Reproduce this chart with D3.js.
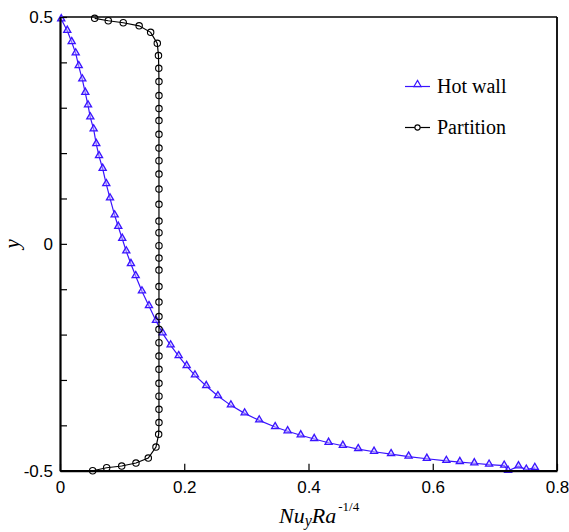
<!DOCTYPE html>
<html>
<head>
<meta charset="utf-8">
<script src="https://cdn.jsdelivr.net/npm/d3@7"></script>
<style>
  body { margin: 0; background: #fff; }
  svg { display: block; }
</style>
</head>
<body>
<svg id="chart" width="569" height="532"></svg>
<script>
// Hot wall: local Nusselt number along the heated wall
const hotX = [0.002, 0.0117, 0.0188, 0.0253, 0.0301, 0.0359, 0.0407, 0.0451, 0.0488, 0.0542,
  0.0584, 0.0628, 0.0687, 0.0745, 0.0805, 0.0880, 0.0938, 0.1002, 0.1067, 0.1142,
  0.1218, 0.1319, 0.1432, 0.1545, 0.1652, 0.1781, 0.1910, 0.2039, 0.2172, 0.2354,
  0.2542, 0.2751, 0.2972, 0.3207, 0.3463, 0.3664, 0.3875, 0.4092, 0.4323, 0.4553,
  0.4800, 0.5055, 0.5329, 0.5611, 0.5905, 0.6219, 0.6436, 0.6669, 0.6907, 0.7150,
  0.7213, 0.7380, 0.7506, 0.7643];
const hotY = [0.495, 0.4697, 0.4448, 0.4199, 0.3919, 0.3626, 0.3330, 0.3053, 0.2788, 0.2524,
  0.2200, 0.1935, 0.1655, 0.1318, 0.1003, 0.0628, 0.0377, 0.0112, -0.0165, -0.0445,
  -0.0710, -0.1047, -0.1371, -0.1695, -0.1973, -0.2237, -0.2473, -0.2693, -0.2898, -0.3134,
  -0.3355, -0.3560, -0.3736, -0.3890, -0.4038, -0.4130, -0.4219, -0.4302, -0.4384, -0.4450,
  -0.4523, -0.4582, -0.4633, -0.4688, -0.4737, -0.4783, -0.4809, -0.4836, -0.4865, -0.4887,
  -0.5003, -0.4902, -0.4975, -0.4937];

// Partition
const partX = [0.0558, 0.0777, 0.1018, 0.1274, 0.1459, 0.1566, 0.1585, 0.1590, 0.1593, 0.1593,
  0.1593, 0.1593, 0.1593, 0.1593, 0.1593, 0.1593, 0.1593, 0.1593, 0.1593, 0.1593,
  0.1593, 0.1593, 0.1593, 0.1593, 0.1593, 0.1593, 0.1593, 0.1593, 0.1593, 0.1593,
  0.1593, 0.1593, 0.1593, 0.1593, 0.1588, 0.1545, 0.1421, 0.1223, 0.0993, 0.0751, 0.0526];
const partY = [0.4970, 0.4917, 0.4873, 0.4805, 0.4662, 0.4419, 0.4150, 0.3868, 0.3577, 0.3269,
  0.2982, 0.2718, 0.2413, 0.2112, 0.1832, 0.1538, 0.1208, 0.0871, 0.0503, 0.0245,
  -0.0042, -0.0313, -0.0577, -0.0941, -0.1283, -0.1602, -0.1885, -0.2180, -0.2473, -0.2766,
  -0.3075, -0.3359, -0.3648, -0.3939, -0.4199, -0.4479, -0.4721, -0.4831, -0.4897, -0.4935, -0.5001];

const xTicks = [0, 0.2, 0.4, 0.6, 0.8];
const xTickLabels = ["0", "0.2", "0.4", "0.6", "0.8"];
const yTicks = [-0.5, -0.4, -0.3, -0.2, -0.1, 0, 0.1, 0.2, 0.3, 0.4, 0.5];
const yTickLabels = {"-0.5": "-0.5", "0": "0", "0.5": "0.5"};
const seriesNames = ["Hot wall", "Partition"];

const blue = "#3a14ff";

const svg = d3.select("#chart");
const mLeft = 60, mRight = 557, mTop = 17, mBottom = 470.7;

const x = d3.scaleLinear().domain([0, 0.8]).range([mLeft, mRight]);
const y = d3.scaleLinear().domain([-0.5, 0.5]).range([mBottom, mTop]);

const hot = hotX.map((v, i) => [v, hotY[i]]);
const part = partX.map((v, i) => [v, partY[i]]);

const line = d3.line().x(d => x(d[0])).y(d => y(d[1]));
const tri = d3.symbol().type(d3.symbolTriangle).size(22);

// frame (top / right thin)
svg.append("line").attr("x1", mLeft).attr("x2", mRight).attr("y1", mTop).attr("y2", mTop)
  .attr("stroke", "#000").attr("stroke-width", 1.3);
svg.append("line").attr("x1", mRight).attr("x2", mRight).attr("y1", mTop).attr("y2", mBottom)
  .attr("stroke", "#000").attr("stroke-width", 1.8);

// series
const plot = svg.append("g");
plot.append("path").datum(hot).attr("d", line)
  .attr("fill", "none").attr("stroke", blue).attr("stroke-width", 1.2);
plot.append("g").selectAll("path").data(hot).join("path")
  .attr("d", tri)
  .attr("transform", d => `translate(${x(d[0])},${y(d[1]) - 0.5})`)
  .attr("fill", "#c8bcff").attr("fill-opacity", 0.5)
  .attr("stroke", blue).attr("stroke-width", 1.3);

plot.append("path").datum(part).attr("d", line)
  .attr("fill", "none").attr("stroke", "#000").attr("stroke-width", 1.2);
plot.append("g").selectAll("circle").data(part).join("circle")
  .attr("cx", d => x(d[0])).attr("cy", d => y(d[1])).attr("r", 3.2)
  .attr("fill", "none").attr("stroke", "#000").attr("stroke-width", 1.1);

// axes
const xAxis = d3.axisBottom(x).tickValues(xTicks).tickSizeInner(-7).tickSizeOuter(0)
  .tickFormat((d, i) => xTickLabels[i]);
const gx = svg.append("g").attr("transform", `translate(0,${mBottom})`).call(xAxis);
gx.select(".domain").attr("stroke-width", 2.2);
gx.selectAll(".tick line").attr("stroke-width", 1.2);
gx.selectAll(".tick text").attr("font-family", "Liberation Sans, Arial, sans-serif")
  .attr("font-size", 17).attr("fill", "#000").attr("y", 10).attr("dy", "0.71em");

const yAxis = d3.axisLeft(y).tickValues(yTicks).tickSizeInner(-7).tickSizeOuter(0)
  .tickFormat(d => yTickLabels[String(d)] || "");
const gy = svg.append("g").attr("transform", `translate(${mLeft},0)`).call(yAxis);
gy.select(".domain").attr("stroke-width", 2.2);
gy.selectAll(".tick line").attr("stroke-width", 1.2);
gy.selectAll(".tick text").attr("font-family", "Liberation Sans, Arial, sans-serif")
  .attr("font-size", 17).attr("fill", "#000").attr("x", -7);

// axis titles
svg.append("text")
  .attr("transform", `translate(19,${y(0)}) rotate(-90)`)
  .attr("text-anchor", "middle")
  .attr("font-family", "Liberation Serif, Times New Roman, serif")
  .attr("font-style", "italic").attr("font-size", 21)
  .text("y");

const xt = svg.append("text")
  .attr("x", 279).attr("y", 523)
  .attr("font-family", "Liberation Serif, Times New Roman, serif")
  .attr("font-size", 22);
xt.append("tspan").attr("font-style", "italic").text("Nu");
xt.append("tspan").attr("font-style", "italic").attr("font-size", 16).attr("dy", 3).text("y");
xt.append("tspan").attr("font-style", "italic").attr("dy", -3).text("Ra");
xt.append("tspan").attr("font-size", 13).attr("dx", 2).attr("dy", -12).text("-1/4");

// legend
const legend = svg.append("g").attr("transform", "translate(405,86.5)");
seriesNames.forEach((name, i) => {
  const g = legend.append("g").attr("transform", `translate(0,${i * 41})`);
  const c = i === 0 ? blue : "#000";
  g.append("line").attr("x1", 0).attr("x2", 25).attr("y1", 0).attr("y2", 0)
    .attr("stroke", c).attr("stroke-width", 1.2);
  if (i === 0) {
    g.append("path").attr("d", tri).attr("transform", "translate(12.5,-2)")
      .attr("fill", "none").attr("stroke", c).attr("stroke-width", 1.2);
  } else {
    g.append("circle").attr("cx", 12.5).attr("cy", 0).attr("r", 2.6)
      .attr("fill", "#fff").attr("stroke", c).attr("stroke-width", 1.1);
  }
  g.append("text").attr("x", 32).attr("y", 6)
    .attr("font-family", "Liberation Serif, Times New Roman, serif")
    .attr("font-size", 20).attr("fill", "#000").text(name);
});
</script>
</body>
</html>
